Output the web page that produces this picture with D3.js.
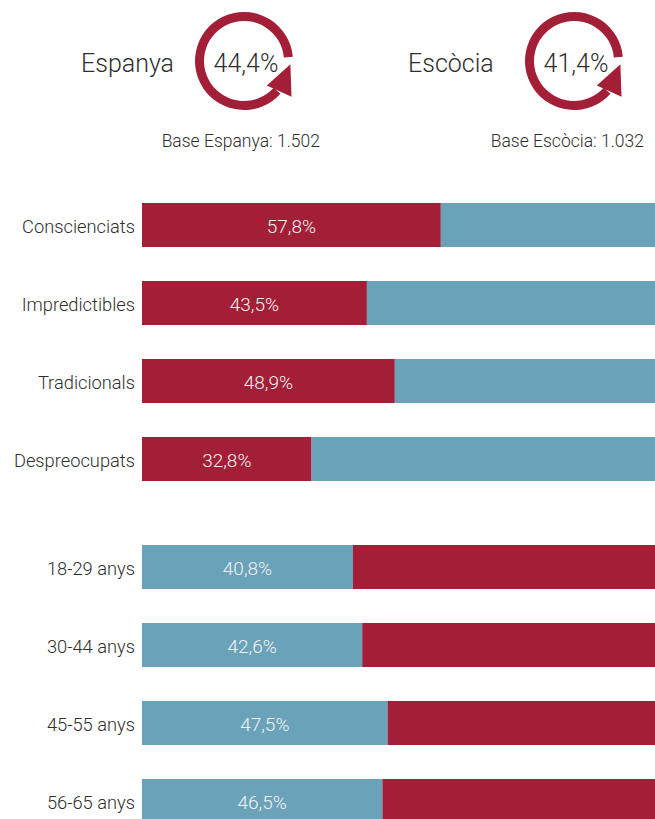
<!DOCTYPE html>
<html>
<head>
<meta charset="utf-8">
<script src="https://cdn.jsdelivr.net/npm/d3@7"></script>
<style>
  html, body { margin: 0; padding: 0; background: #fff; }
  svg { display: block; }
  text { font-family: Roboto, "Noto Sans", sans-serif; font-weight: 300; }
</style>
</head>
<body>
<svg id="chart" width="655" height="819"></svg>
<script>
// ---- data ----
const headerCountries = ["Espanya", "Escòcia"];
const headerValues = ["44,4%", "41,4%"];
const headerBases = ["Base Espanya: 1.502", "Base Escòcia: 1.032"];

const profileCategories = ["Conscienciats", "Impredictibles", "Tradicionals", "Despreocupats"];
const profileValues = [57.8, 43.5, 48.9, 32.8];

const ageCategories = ["18-29 anys", "30-44 anys", "45-55 anys", "56-65 anys"];
const ageValues = [40.8, 42.6, 47.5, 46.5];

// ---- styles ----
const RED = "#A31E37";
const BLUE = "#6AA2BA";
const TEXT = "#2E2E2E";
const fmt = v => d3.format(".1f")(v).replace(".", ",") + "%";

const svg = d3.select("#chart");

// ---- header ----
const headerX = [
  { label: 81, cx: 244, base: 320 },
  { label: 408, cx: 574, base: 644 }
];
const cy = 61, rOut = 49, ringW = 9;
const rMid = rOut - ringW / 2;
const deg = Math.PI / 180;
const ringArc = d3.arc()
  .innerRadius(rOut - ringW)
  .outerRadius(rOut)
  .startAngle((42 + 90) * deg)
  .endAngle((355 + 90) * deg);

headerCountries.forEach((name, i) => {
  const h = headerX[i];
  const g = svg.append("g");
  g.append("text")
    .attr("x", h.label).attr("y", 72)
    .attr("font-size", 25).attr("fill", TEXT)
    .text(name);
  const cg = g.append("g").attr("transform", `translate(${h.cx},${cy})`);
  cg.append("path").attr("d", ringArc()).attr("fill", RED);
  // arrowhead (polar construction)
  const p = (r, a) => [r * Math.cos(a * deg), r * Math.sin(a * deg)];
  const pts = [p(rMid - 11, 47), p(rMid + 15, 37), p(rMid + 2, 4)];
  cg.append("path")
    .attr("d", d3.line()(pts) + "Z")
    .attr("fill", RED);
  cg.append("text")
    .attr("x", 2).attr("y", 11)
    .attr("text-anchor", "middle")
    .attr("font-size", 25).attr("fill", TEXT)
    .text(headerValues[i]);
  g.append("text")
    .attr("x", h.base).attr("y", 147)
    .attr("text-anchor", "end")
    .attr("font-size", 17.5).attr("fill", TEXT)
    .text(headerBases[i]);
});

// ---- bars ----
const x = d3.scaleLinear().domain([0, 100]).range([142, 659]);

function group(cats, vals, y0, firstColor, secondColor) {
  const y = d3.scaleBand()
    .domain(cats)
    .range([y0, y0 + 78 * cats.length])
    .paddingInner(34 / 78)
    .paddingOuter(17 / 78);
  const data = cats.map((c, i) => ({ c, v: vals[i] }));
  const g = svg.append("g");
  const row = g.selectAll("g.row").data(data).join("g").attr("class", "row");
  row.append("rect")
    .attr("x", x(0)).attr("y", d => y(d.c))
    .attr("width", d => x(d.v) - x(0))
    .attr("height", y.bandwidth())
    .attr("fill", firstColor);
  row.append("rect")
    .attr("x", d => x(d.v)).attr("y", d => y(d.c))
    .attr("width", d => x(100) - x(d.v))
    .attr("height", y.bandwidth())
    .attr("fill", secondColor);
  row.append("text")
    .attr("x", d => (x(0) + x(d.v)) / 2)
    .attr("y", d => y(d.c) + y.bandwidth() / 2 + 7.5)
    .attr("text-anchor", "middle")
    .attr("font-size", 19).attr("fill", "#F2F2F2")
    .text(d => fmt(d.v));
  row.append("text")
    .attr("x", 135)
    .attr("y", d => y(d.c) + y.bandwidth() / 2 + 7.5)
    .attr("text-anchor", "end")
    .attr("font-size", 18.3).attr("fill", TEXT)
    .text(d => d.c);
}

group(profileCategories, profileValues, 186, RED, BLUE);
group(ageCategories, ageValues, 528, BLUE, RED);
</script>
</body>
</html>
